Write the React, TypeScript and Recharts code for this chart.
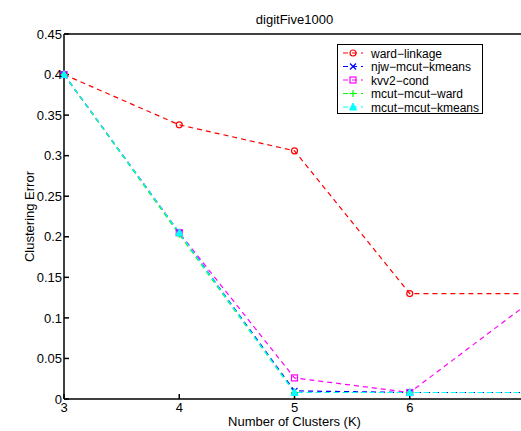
import { LineChart, Line, XAxis, YAxis, Legend } from "recharts"

const clusters = [3, 4, 5, 6, 7]
const wardLinkage = [0.4, 0.338, 0.306, 0.13, 0.13]
const njwMcutKmeans = [0.4, 0.205, 0.01, 0.008, 0.008]
const kvv2Cond = [0.4, 0.205, 0.026, 0.008, 0.115]
const mcutMcutWard = [0.4, 0.203, 0.008, 0.008, 0.008]
const mcutMcutKmeans = [0.4, 0.205, 0.008, 0.008, 0.008]

// the 7 tick sits past the right edge of the picture, so it is left out
const xTicks = [3, 4, 5, 6]
const yTicks = [0, 0.05, 0.1, 0.15, 0.2, 0.25, 0.3, 0.35, 0.4, 0.45]

const FONT = '"Liberation Sans", Arial, Helvetica, sans-serif'

type Series = { key: string; name: string; color: string; marker: string; values: number[] }

const series: Series[] = [
  { key: "ward", name: "ward−linkage", color: "#ff0000", marker: "circle", values: wardLinkage },
  { key: "njw", name: "njw−mcut−kmeans", color: "#0000ff", marker: "x", values: njwMcutKmeans },
  { key: "kvv2", name: "kvv2−cond", color: "#ff00ff", marker: "square", values: kvv2Cond },
  { key: "mward", name: "mcut−mcut−ward", color: "#00ff00", marker: "plus", values: mcutMcutWard },
  { key: "mkmeans", name: "mcut−mcut−kmeans", color: "#00ffff", marker: "triangle", values: mcutMcutKmeans },
]

const data = clusters.map((k, i) => {
  const row: Record<string, number> = { k }
  series.forEach(s => { row[s.key] = s.values[i] })
  return row
})

function Marker({ kind, cx, cy, color }: { kind: string; cx: number; cy: number; color: string }) {
  if (kind === "circle") return <circle cx={cx} cy={cy} r={3} fill="none" stroke={color} strokeWidth={1.2} />
  if (kind === "square") return <rect x={cx - 3} y={cy - 3} width={6} height={6} fill="none" stroke={color} strokeWidth={1.2} />
  if (kind === "x") return (
    <g stroke={color} strokeWidth={1.2}>
      <line x1={cx - 3} y1={cy - 3} x2={cx + 3} y2={cy + 3} />
      <line x1={cx - 3} y1={cy + 3} x2={cx + 3} y2={cy - 3} />
    </g>
  )
  if (kind === "plus") return (
    <g stroke={color} strokeWidth={1.2}>
      <line x1={cx - 3.5} y1={cy} x2={cx + 3.5} y2={cy} />
      <line x1={cx} y1={cy - 3.5} x2={cx} y2={cy + 3.5} />
    </g>
  )
  return <polygon points={`${cx},${cy - 4} ${cx - 3.5},${cy + 3} ${cx + 3.5},${cy + 3}`} fill={color} stroke={color} />
}

function LegendBox() {
  return (
    <svg width={146} height={70} style={{ display: "block" }}>
      <rect x={0.5} y={0.5} width={145} height={69} fill="#fff" stroke="#000" strokeWidth={1} />
      {series.map((s, i) => {
        const cy = 9 + i * 13.5
        return (
          <g key={s.key}>
            <line x1={6} y1={cy} x2={26} y2={cy} stroke={s.color} strokeDasharray="5 4" />
            <Marker kind={s.marker} cx={16} cy={cy} color={s.color} />
            <text x={34} y={cy + 4.5} fontSize={12} fontFamily={FONT} fill="#000">{s.name}</text>
          </g>
        )
      })}
    </svg>
  )
}

export default function App() {
  return (
    <div style={{ position: "absolute", left: 0, top: 0, width: 521, height: 431, overflow: "hidden", background: "#fff" }}>
      <LineChart
        width={560}
        height={431}
        data={data}
        margin={{ top: 0, right: 35, bottom: 0, left: 0 }}
        style={{ fontFamily: FONT }}
      >
        <XAxis
          dataKey="k"
          type="number"
          domain={[3, 7]}
          ticks={xTicks}
          height={32}
          tickSize={-5}
          tickMargin={9}
          stroke="#000"
          strokeWidth={1.5}
          tick={{ fill: "#000", fontSize: 13 }}
          label={{ value: "Number of Clusters (K)", position: "insideBottom", offset: 5, fill: "#000", fontSize: 13 }}
        />
        <XAxis
          xAxisId="top"
          dataKey="k"
          type="number"
          orientation="top"
          domain={[3, 7]}
          ticks={xTicks}
          height={34}
          tickSize={-5}
          tick={false}
          stroke="#000"
          strokeWidth={1.5}
          label={{ value: "digitFive1000", position: "insideTop", offset: 15, fill: "#000", fontSize: 13 }}
        />
        <YAxis
          type="number"
          domain={[0, 0.45]}
          ticks={yTicks}
          width={64}
          tickSize={-5}
          tickMargin={7}
          stroke="#000"
          strokeWidth={1.5}
          tick={{ fill: "#000", fontSize: 13 }}
          label={{ value: "Clustering Error", angle: -90, position: "insideLeft", offset: 29, fill: "#000", fontSize: 13, style: { textAnchor: "middle" } }}
        />
        <YAxis
          yAxisId="right"
          orientation="right"
          type="number"
          domain={[0, 0.45]}
          ticks={yTicks}
          width={0}
          tickSize={-5}
          tick={false}
          stroke="#000"
        />
        <Legend
          layout="horizontal"
          verticalAlign="middle"
          align="center"
          wrapperStyle={{ position: "absolute", left: 337, top: 44, width: 146, height: 70 }}
          content={() => <LegendBox />}
        />
        {series.map(s => (
          <Line
            key={s.key}
            dataKey={s.key}
            name={s.name}
            type="linear"
            stroke={s.color}
            strokeWidth={1.2}
            strokeDasharray="5 4"
            isAnimationActive={false}
            dot={(p: any) => <Marker key={`${s.key}-${p.index}`} kind={s.marker} cx={p.cx} cy={p.cy} color={s.color} />}
            activeDot={false}
          />
        ))}
      </LineChart>
    </div>
  )
}
